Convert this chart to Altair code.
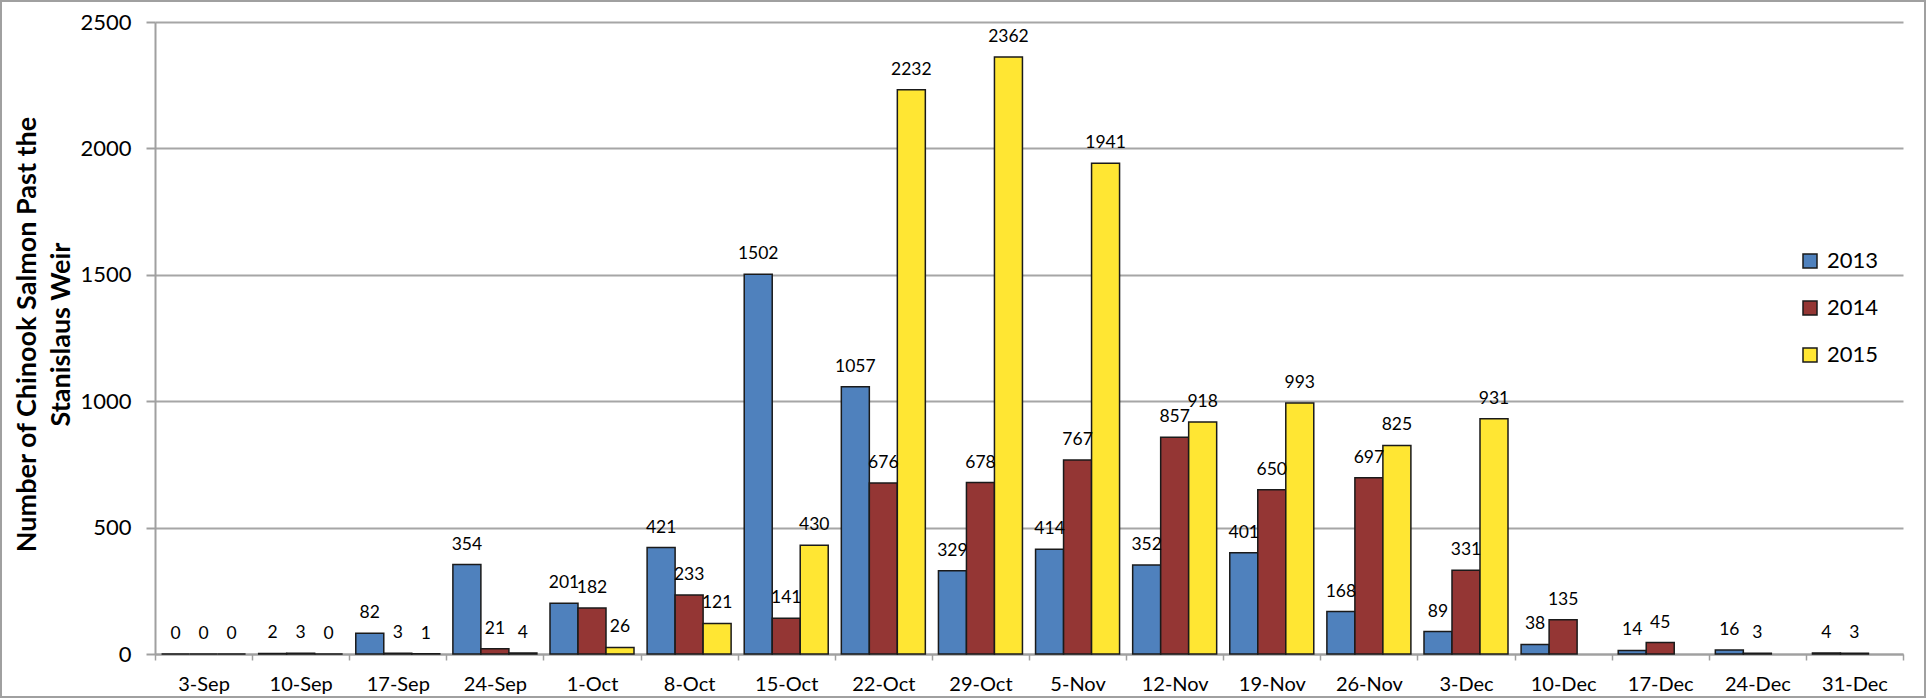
import altair as alt
import pandas as pd

weeks = ["3-Sep", "10-Sep", "17-Sep", "24-Sep", "1-Oct", "8-Oct", "15-Oct", "22-Oct", "29-Oct",
         "5-Nov", "12-Nov", "19-Nov", "26-Nov", "3-Dec", "10-Dec", "17-Dec", "24-Dec", "31-Dec"]
y2013 = [0, 2, 82, 354, 201, 421, 1502, 1057, 329, 414, 352, 401, 168, 89, 38, 14, 16, 4]
y2014 = [0, 3, 3, 21, 182, 233, 141, 676, 678, 767, 857, 650, 697, 331, 135, 45, 3, 3]
y2015 = [0, 0, 1, 4, 26, 121, 430, 2232, 2362, 1941, 918, 993, 825, 931, None, None, None, None]
years = ["2013", "2014", "2015"]
colors = ["#4F81BD", "#943634", "#FFE633"]
y_ticks = [0, 500, 1000, 1500, 2000, 2500]
y_title = ["Number of Chinook Salmon Past the", "Stanislaus Weir"]

rows = []
for i, w in enumerate(weeks):
    for yr, vals in zip(years, [y2013, y2014, y2015]):
        v = vals[i]
        if v is not None:
            rows.append({"week": w, "year": yr, "count": v})
df = pd.DataFrame(rows)

W, H = 1748, 632
PL, PT = 155, 22

x_enc = alt.X("week:N", sort=weeks,
              scale=alt.Scale(domain=weeks, paddingInner=0, paddingOuter=0),
              axis=alt.Axis(title=None, labelAngle=0, tickBand="extent", grid=False,
                            labelFont="Lato", labelFontSize=20, labelColor="black",
                            labelPadding=14, tickSize=6, tickColor="#a0a0a0", tickWidth=1.5,
                            domainColor="#a0a0a0", domainWidth=2))
xoff_enc = alt.XOffset("year:N", scale=alt.Scale(domain=years, paddingInner=0, paddingOuter=0.234))
y_enc = alt.Y("count:Q", scale=alt.Scale(domain=[0, 2500], nice=False),
              axis=alt.Axis(values=y_ticks, format="d", title=y_title, grid=True,
                            gridColor="#a6a6a6", gridWidth=2,
                            domainColor="#a0a0a0", domainWidth=2,
                            tickColor="#a0a0a0", tickWidth=2, tickSize=9,
                            labelFont="Lato", labelFontSize=22, labelColor="black", labelPadding=15,
                            titleFont="Lato", titleFontWeight="bold", titleFontSize=27,
                            titleColor="black", titleAngle=270, titleAlign="center",
                            titleBaseline="alphabetic", titleX=35 - PL, titleY=H / 2 - 4,
                            titleLineHeight=34))
color_enc = alt.Color("year:N", scale=alt.Scale(domain=years, range=colors),
                      legend=alt.Legend(title=None, orient="none", legendX=1644, legendY=228,
                                        symbolType="square", symbolSize=196,
                                        symbolStrokeColor="#1a1a1a", symbolStrokeWidth=1.5,
                                        symbolOpacity=1,
                                        labelFont="Lato", labelFontSize=22, labelColor="black",
                                        labelOffset=6, rowPadding=25))

bars = alt.Chart(df).mark_bar(stroke="#1a1a1a", strokeWidth=1.5).encode(
    x=x_enc, xOffset=xoff_enc, y=y_enc, color=color_enc)

labels = alt.Chart(df).mark_text(font="Lato", fontSize=17.5, baseline="alphabetic",
                                 align="center", dy=-15, color="black").encode(
    x=alt.X("week:N", sort=weeks), xOffset=alt.XOffset("year:N"),
    y=alt.Y("count:Q"), text=alt.Text("count:Q"))

frame = alt.Chart(pd.DataFrame({"a": [0]})).mark_rect(
    filled=False, stroke="#a0a0a0", strokeWidth=2).encode(
    x=alt.value(1 - PL), x2=alt.value(1925 - PL), y=alt.value(1 - PT), y2=alt.value(697 - PT))

chart = alt.layer(bars, labels, frame).properties(
    width=W, height=H,
    autosize=alt.AutoSizeParams(type="none"),
    padding={"left": PL, "top": PT, "right": 1926 - PL - W, "bottom": 698 - PT - H},
    background="white",
).configure_view(stroke=None)

chart.save("out.html", embed_options={"renderer": "svg", "actions": False})
